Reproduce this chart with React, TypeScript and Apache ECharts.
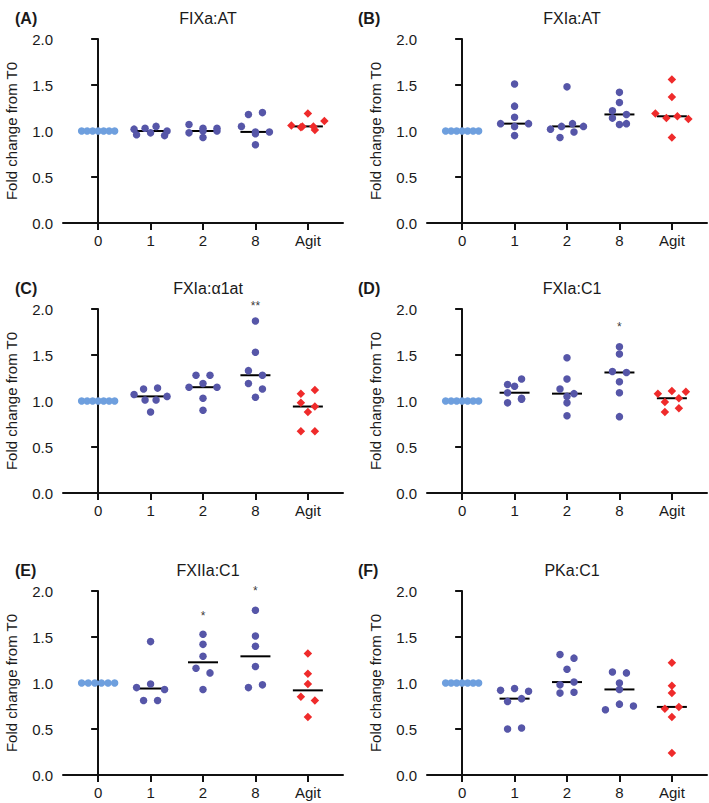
import React, { useEffect, useRef } from 'react';
import * as echarts from 'echarts';

// ---------- data ----------
const CATEGORIES = ['0', '1', '2', '8', 'Agit'];
const PANEL_LETTERS = ['(A)', '(B)', '(C)', '(D)', '(E)', '(F)'];
const PANEL_TITLES = ['FIXa:AT', 'FXIa:AT', 'FXIa:\u03b11at', 'FXIa:C1', 'FXIIa:C1', 'PKa:C1'];
const Y_TICKS = [0, 0.5, 1.0, 1.5, 2.0];
const Y_NAME = 'Fold change from T0';

// each panel: values for categories 0, 1, 2, 8, Agit
const FIXa_AT = [
  [1, 1, 1, 1, 1, 1, 1],
  [0.96, 1.02, 0.98, 1.03, 1.05, 0.95, 1.0],
  [1.07, 0.98, 1.03, 1.0, 1.0, 1.03, 0.93],
  [1.05, 1.18, 1.2, 0.99, 0.99, 0.97, 0.85],
  [1.04, 1.06, 1.19, 1.05, 1.05, 1.11, 1.01],
];
const FXIa_AT = [
  [1, 1, 1, 1, 1, 1, 1],
  [1.51, 1.27, 1.15, 1.08, 1.05, 1.08, 0.95],
  [1.48, 1.02, 1.05, 1.08, 1.05, 0.93, 0.99],
  [1.42, 1.31, 1.22, 1.07, 1.14, 1.18, 1.08],
  [1.56, 1.37, 1.19, 1.14, 1.16, 1.13, 0.93],
];
const FXIa_A1AT = [
  [1, 1, 1, 1, 1, 1, 1],
  [1.07, 1.13, 1.14, 1.01, 1.01, 1.05, 0.88],
  [1.28, 1.28, 1.15, 1.19, 1.15, 1.03, 0.9],
  [1.87, 1.53, 1.33, 1.28, 1.19, 1.13, 1.04],
  [1.08, 1.12, 0.98, 0.88, 0.94, 0.67, 0.67],
];
const FXIa_C1 = [
  [1, 1, 1, 1, 1, 1, 1],
  [1.18, 1.09, 0.98, 1.03, 1.24, 1.16, 1.02],
  [1.47, 1.24, 1.13, 1.05, 1.08, 0.98, 0.84],
  [1.59, 1.51, 1.32, 1.31, 1.21, 1.09, 0.83],
  [1.08, 1.11, 1.1, 0.99, 1.03, 0.88, 0.92],
];
const FXIIa_C1 = [
  [1, 1, 1, 1, 1, 1],
  [1.45, 0.95, 0.99, 0.93, 0.81, 0.81],
  [1.53, 1.42, 1.29, 1.16, 1.11, 0.93],
  [1.79, 1.51, 1.4, 1.18, 0.95, 0.98],
  [1.32, 1.1, 0.99, 0.85, 0.81, 0.63],
];
const PKa_C1 = [
  [1, 1, 1, 1, 1, 1, 1],
  [0.92, 0.94, 0.91, 0.8, 0.83, 0.5, 0.51],
  [1.31, 1.27, 1.15, 0.98, 1.01, 0.89, 0.9],
  [1.12, 1.11, 1.0, 0.93, 0.71, 0.77, 0.75],
  [1.22, 0.97, 0.89, 0.72, 0.74, 0.63, 0.24],
];
const PANEL_DATA = [FIXa_AT, FXIa_AT, FXIa_A1AT, FXIa_C1, FXIIa_C1, PKa_C1];

// significance marks: panel index, category index, text, y position
const STAR_PANELS = [2, 3, 4, 4];
const STAR_CATS = [3, 3, 2, 3];
const STAR_TEXTS = ['**', '*', '*', '*'];
const STAR_Y = [2.03, 1.8, 1.72, 1.99];

// ---------- layout ----------
const W = 709;
const H = 803;
const GRID_LEFTS = [63, 427];
const GRID_TOPS = [39, 309, 591];
const GRID_W = 280;
const GRID_H = 184;
const X_MIN = -0.67;
const X_MAX = 4.67;
const Y_MIN = 0;
const Y_MAX = 2;
const PX_X = GRID_W / (X_MAX - X_MIN);
const PX_Y = GRID_H / (Y_MAX - Y_MIN);
const ROW_PX = 6;
const MAX_SPAN_PX = 33;
const MAX_STEP_PX = 14;
const MEDIAN_HALF_PX = 15;

const FONT = "'Liberation Sans', Arial, Helvetica, sans-serif";
const TEXT = '#1a1a1a';
const C_T0 = '#6e9fde';
const C_TIME = '#5656a8';
const C_AGIT = '#ef2b2b';

function swarmOffsets(values: number[]): number[] {
  const idx = values.map((_, i) => i).sort((a, b) => values[b] - values[a]);
  const rows: number[][] = [];
  let start = 0;
  for (const i of idx) {
    const cur = rows[rows.length - 1];
    if (cur && (start - values[i]) * PX_Y <= ROW_PX) {
      cur.push(i);
    } else {
      rows.push([i]);
      start = values[i];
    }
  }
  const off = new Array(values.length).fill(0);
  for (const row of rows) {
    row.sort((a, b) => a - b);
    const k = row.length;
    const s = k > 1 ? Math.min(MAX_STEP_PX, MAX_SPAN_PX / (k - 1)) : 0;
    row.forEach((i, j) => {
      off[i] = (j - (k - 1) / 2) * s;
    });
  }
  return off;
}

function median(v: number[]): number {
  const s = [...v].sort((a, b) => a - b);
  const n = s.length;
  return n % 2 ? s[(n - 1) / 2] : (s[n / 2 - 1] + s[n / 2]) / 2;
}

function buildOption() {
  const grid: any[] = [];
  const xAxis: any[] = [];
  const yAxis: any[] = [];
  const series: any[] = [];
  const title: any[] = [];

  PANEL_DATA.forEach((panel, p) => {
    const left = GRID_LEFTS[p % 2];
    const top = GRID_TOPS[Math.floor(p / 2)];
    grid.push({ left, top, width: GRID_W, height: GRID_H, containLabel: false });
    xAxis.push({
      type: 'value',
      gridIndex: p,
      min: X_MIN,
      max: X_MAX,
      axisLine: { show: true, onZero: false, lineStyle: { color: '#111', width: 2 } },
      axisTick: { show: true, length: 7, lineStyle: { color: '#111', width: 2 }, customValues: [0, 1, 2, 3, 4] },
      axisLabel: {
        show: true,
        customValues: [0, 1, 2, 3, 4],
        margin: 10,
        fontSize: 15,
        fontFamily: FONT,
        color: TEXT,
        formatter: (v: number) => CATEGORIES[Math.round(v)] ?? '',
      },
      splitLine: { show: false },
    });
    yAxis.push({
      type: 'value',
      gridIndex: p,
      min: Y_MIN,
      max: Y_MAX,
      interval: 0.5,
      name: Y_NAME,
      nameLocation: 'middle',
      nameGap: 44,
      nameTextStyle: { fontSize: 15, fontFamily: FONT, color: TEXT },
      axisLine: { show: true, lineStyle: { color: '#111', width: 2 } },
      axisTick: { show: true, length: 7, lineStyle: { color: '#111', width: 2 } },
      axisLabel: {
        margin: 10,
        fontSize: 15,
        fontFamily: FONT,
        color: TEXT,
        formatter: (v: number) => (Y_TICKS.includes(v) ? v.toFixed(1) : ''),
      },
      splitLine: { show: false },
    });
    title.push({
      text: PANEL_LETTERS[p],
      left: p % 2 === 0 ? 10 : 353,
      top: top - 34,
      textStyle: { fontSize: 16, fontWeight: 'bold', fontFamily: FONT, color: TEXT },
    });
    title.push({
      text: PANEL_TITLES[p],
      left: left + GRID_W / 2,
      top: top - 34,
      textAlign: 'center',
      textStyle: { fontSize: 16, fontWeight: 'normal', fontFamily: FONT, color: TEXT },
    });

    // medians (under the dots)
    const medData = panel.slice(1).map((vals, gi) => [gi + 1, median(vals)]);
    series.push({
      type: 'custom',
      xAxisIndex: p,
      yAxisIndex: p,
      z: 2,
      silent: true,
      data: medData,
      renderItem: (params: any, api: any) => {
        const x = api.value(0);
        const y = api.value(1);
        const c = api.coord([x, y]);
        return {
          type: 'line',
          shape: { x1: c[0] - MEDIAN_HALF_PX, y1: c[1], x2: c[0] + MEDIAN_HALF_PX, y2: c[1] },
          style: { stroke: '#000', lineWidth: 2 },
        };
      },
    });

    panel.forEach((vals, gi) => {
      const offs = swarmOffsets(vals);
      const data = vals.map((v, i) => [gi + offs[i] / PX_X, v]);
      const color = gi === 0 ? C_T0 : gi === 4 ? C_AGIT : C_TIME;
      series.push({
        type: 'scatter',
        xAxisIndex: p,
        yAxisIndex: p,
        z: 3,
        symbol: gi === 4 ? 'diamond' : 'circle',
        symbolSize: gi === 4 ? 8.5 : 7.5,
        itemStyle: { color, opacity: 1 },
        data,
        silent: true,
      });
    });
  });

  // significance stars
  STAR_TEXTS.forEach((t, k) => {
    const p = STAR_PANELS[k];
    series.push({
      type: 'scatter',
      xAxisIndex: p,
      yAxisIndex: p,
      clip: false,
      symbolSize: 1,
      itemStyle: { color: 'rgba(255,255,255,0)' },
      z: 4,
      silent: true,
      label: {
        show: true,
        position: 'top',
        distance: -6,
        formatter: t,
        fontSize: 12,
        fontFamily: FONT,
        color: '#000',
        textBorderWidth: 0,
      },
      data: [[STAR_CATS[k], STAR_Y[k]]],
    });
  });

  return {
    animation: false,
    backgroundColor: '#ffffff',
    title,
    grid,
    xAxis,
    yAxis,
    series,
  };
}

export default function App() {
  const ref = useRef<HTMLDivElement>(null);
  useEffect(() => {
    if (!ref.current) return;
    const chart = echarts.init(ref.current, undefined, { renderer: 'svg', width: W, height: H });
    chart.setOption(buildOption() as any);
    return () => chart.dispose();
  }, []);
  return (
    <div
      ref={ref}
      style={{ position: 'absolute', left: 0, top: 0, width: W, height: H, background: '#fff' }}
    />
  );
}
